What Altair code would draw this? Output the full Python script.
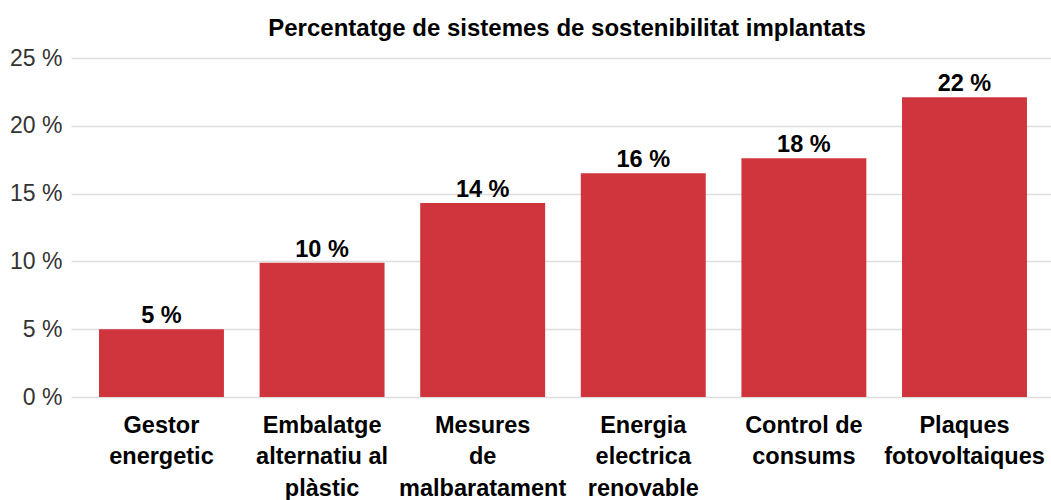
import altair as alt
import pandas as pd

categories = [
    "Gestor energetic",
    "Embalatge alternatiu al plàstic",
    "Mesures de malbaratament",
    "Energia electrica renovable",
    "Control de consums",
    "Plaques fotovoltaiques",
]
label_lines = [
    ["Gestor", "energetic"],
    ["Embalatge", "alternatiu al", "plàstic"],
    ["Mesures", "de", "malbaratament"],
    ["Energia", "electrica", "renovable"],
    ["Control de", "consums"],
    ["Plaques", "fotovoltaiques"],
]
values = [5.0, 9.9, 14.3, 16.5, 17.6, 22.1]
value_labels = ["5 %", "10 %", "14 %", "16 %", "18 %", "22 %"]
y_ticks = [0, 5, 10, 15, 20, 25]

df = pd.DataFrame({"cat": categories, "val": values, "lab": value_labels})

label_expr = "{" + ", ".join(
    f'"{c}": {label_lines[i]!r}' for i, c in enumerate(categories)
).replace("'", '"') + "}[datum.value]"

FONT = "Liberation Sans"
RED = "#d0353d"

x = alt.X(
    "cat:N",
    sort=categories,
    title=None,
    scale=alt.Scale(paddingInner=0.222, paddingOuter=0.162, align=0.538),
    axis=alt.Axis(
        labelExpr=label_expr,
        labelAngle=0,
        labelFont=FONT,
        labelFontSize=23.5,
        labelFontWeight="bold",
        labelColor="#000000",
        labelLineHeight=31.5,
        labelPadding=16,
        labelBaseline="top",
        ticks=False,
        domain=False,
        labelLimit=300,
    ),
)
y = alt.Y(
    "val:Q",
    title=None,
    scale=alt.Scale(domain=[0, 25], nice=False),
    axis=alt.Axis(
        values=y_ticks,
        labelExpr="datum.value + ' %'",
        labelFont=FONT,
        labelFontSize=23,
        labelColor="#333333",
        labelPadding=9,
        ticks=False,
        domain=False,
        grid=True,
        gridColor="#dddddd",
        gridWidth=1.5,
    ),
)

bars = alt.Chart(df).mark_bar(color=RED).encode(x=x, y=y)
text = alt.Chart(df).mark_text(
    font=FONT, fontSize=23.5, fontWeight="bold", color="#000000",
    baseline="alphabetic", dy=-6,
).encode(x=alt.X("cat:N", sort=categories), y="val:Q", text="lab:N")

chart = (
    alt.layer(bars, text)
    .properties(
        width=980,
        height=339,
        title=alt.TitleParams(
            "Percentatge de sistemes de sostenibilitat implantats",
            font=FONT,
            fontSize=24,
            fontWeight="bold",
            color="#000000",
            anchor="middle",
            dx=6,
            offset=6,
        ),
        autosize=alt.AutoSizeParams(type="none"),
        padding={"left": 71, "top": 58, "right": 0, "bottom": 103},
    )
    .configure_view(stroke=None)
)

chart.save("out.html", embed_options={"renderer": "svg", "actions": False})
